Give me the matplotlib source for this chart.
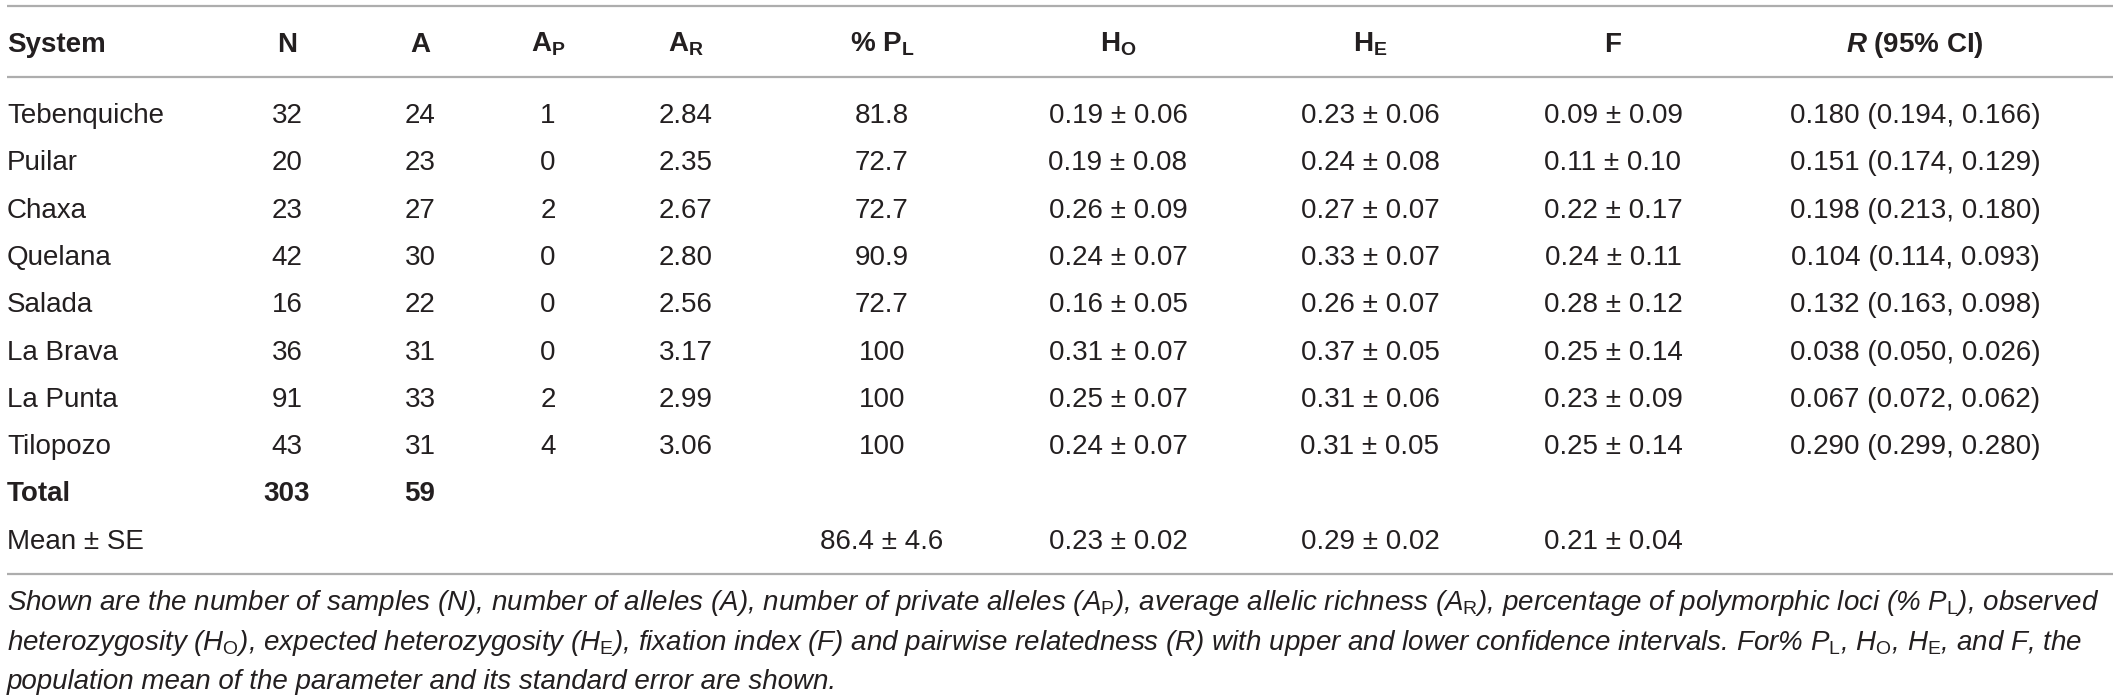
import matplotlib
matplotlib.use("Agg")
import matplotlib.pyplot as plt

plt.rcParams['font.family'] = ['Liberation Sans', 'DejaVu Sans']
plt.rcParams['mathtext.fontset'] = 'custom'
plt.rcParams['mathtext.rm'] = 'Liberation Sans'
plt.rcParams['mathtext.it'] = 'Liberation Sans:italic'
plt.rcParams['mathtext.bf'] = 'Liberation Sans:bold'
plt.rcParams['mathtext.bfit'] = 'Liberation Sans:italic:bold'

# table content
headers = ["System", "N", "A", r"$\mathbf{A}_\mathbf{P}$", r"$\mathbf{A}_\mathbf{R}$",
           r"% $\mathbf{P}_\mathbf{L}$", r"$\mathbf{H}_\mathbf{O}$", r"$\mathbf{H}_\mathbf{E}$",
           "F", r"$\mathbfit{R}$ (95% CI)"]
systems = ["Tebenquiche", "Puilar", "Chaxa", "Quelana", "Salada", "La Brava", "La Punta", "Tilopozo"]
n_samples = [32, 20, 23, 42, 16, 36, 91, 43]
n_alleles = [24, 23, 27, 30, 22, 31, 33, 31]
private_alleles = [1, 0, 2, 0, 0, 0, 2, 4]
richness = ["2.84", "2.35", "2.67", "2.80", "2.56", "3.17", "2.99", "3.06"]
pct_poly = ["81.8", "72.7", "72.7", "90.9", "72.7", "100", "100", "100"]
h_obs = ["0.19 ± 0.06", "0.19 ± 0.08", "0.26 ± 0.09", "0.24 ± 0.07",
         "0.16 ± 0.05", "0.31 ± 0.07", "0.25 ± 0.07", "0.24 ± 0.07"]
h_exp = ["0.23 ± 0.06", "0.24 ± 0.08", "0.27 ± 0.07", "0.33 ± 0.07",
         "0.26 ± 0.07", "0.37 ± 0.05", "0.31 ± 0.06", "0.31 ± 0.05"]
fix_idx = ["0.09 ± 0.09", "0.11 ± 0.10", "0.22 ± 0.17", "0.24 ± 0.11",
           "0.28 ± 0.12", "0.25 ± 0.14", "0.23 ± 0.09", "0.25 ± 0.14"]
relatedness = ["0.180 (0.194, 0.166)", "0.151 (0.174, 0.129)", "0.198 (0.213, 0.180)",
               "0.104 (0.114, 0.093)", "0.132 (0.163, 0.098)", "0.038 (0.050, 0.026)",
               "0.067 (0.072, 0.062)", "0.290 (0.299, 0.280)"]
total_row = ["Total", "303", "59", "", "", "", "", "", "", ""]
mean_row = ["Mean ± SE", "", "", "", "", "86.4 ± 4.6", "0.23 ± 0.02", "0.29 ± 0.02", "0.21 ± 0.04", ""]

caption = [
    r"Shown are the number of samples (N), number of alleles (A), number of private alleles ($\mathit{A}_\mathrm{P}$), "
    r"average allelic richness ($\mathit{A}_\mathrm{R}$), percentage of polymorphic loci (% $\mathit{P}_\mathrm{L}$), observed",
    r"heterozygosity ($\mathit{H}_\mathrm{O}$), expected heterozygosity ($\mathit{H}_\mathrm{E}$), fixation index (F) and "
    r"pairwise relatedness (R) with upper and lower confidence intervals. For% $\mathit{P}_\mathrm{L}$, "
    r"$\mathit{H}_\mathrm{O}$, $\mathit{H}_\mathrm{E}$, and F, the",
    "population mean of the parameter and its standard error are shown.",
]

# layout (pixels)
W, H = 2120, 697
col_x = [7, 287, 420, 548, 686, 882, 1118, 1370, 1613, 1915]
header_base = 52
row0_base = 123
row_step = 47.3
cap_base = [610, 650, 689]
txt_col = "#231f20"
line_col = "#adadad"
fs = 20
cap_fs = 19.95

fig = plt.figure(figsize=(W / 100, H / 100), dpi=100)
ax = fig.add_axes([0, 0, 1, 1])
ax.set_xlim(0, W)
ax.set_ylim(H, 0)
ax.axis("off")

for y in (6, 77, 574):
    ax.plot([7, 2113], [y, y], color=line_col, lw=1.6, solid_capstyle="butt")


def put(col, y, s, bold=False):
    ha = "left" if col == 0 else "center"
    ax.text(col_x[col], y, s, ha=ha, va="baseline", fontsize=fs, color=txt_col,
            fontweight="bold" if bold else "normal")


for c, h in enumerate(headers):
    put(c, header_base, h, bold=True)

rows = list(zip(systems, n_samples, n_alleles, private_alleles, richness,
                pct_poly, h_obs, h_exp, fix_idx, relatedness))
for i, r in enumerate(rows):
    y = row0_base + i * row_step
    for c, v in enumerate(r):
        put(c, y, str(v))

y = row0_base + len(rows) * row_step
for c, v in enumerate(total_row):
    if v:
        put(c, y, v, bold=True)
y += row_step
for c, v in enumerate(mean_row):
    if v:
        put(c, y, v)

for yb, line in zip(cap_base, caption):
    ax.text(7, yb, line, ha="left", va="baseline", fontsize=cap_fs, color=txt_col, style="italic")

fig.savefig("out.png", dpi=100)
